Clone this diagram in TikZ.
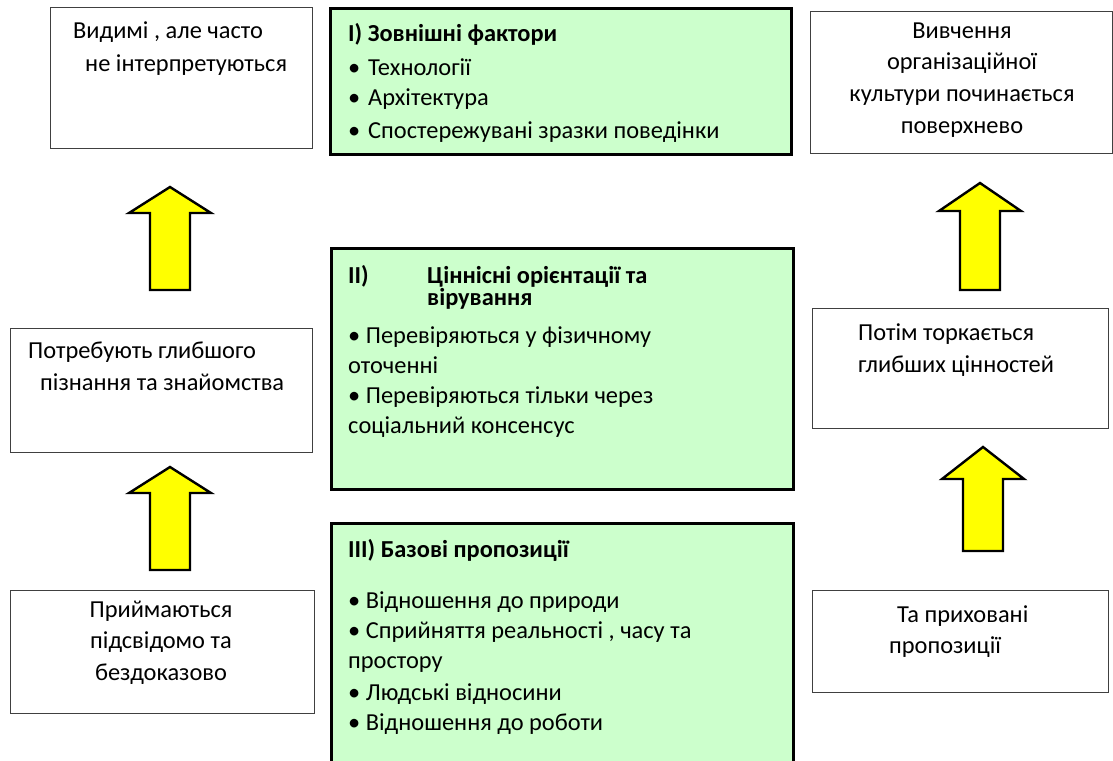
\documentclass[tikz,border=0pt]{standalone}
\usepackage{fontspec}
\setmainfont{Carlito}
\usetikzlibrary{positioning}
\definecolor{layergreen}{HTML}{CCFFCC}
\definecolor{arrowyellow}{HTML}{FFFF00}

\tikzset{
  plainbox/.style={draw=black!75, line width=1.4pt, fill=white, anchor=north west, inner sep=0pt},
  layerbox/.style={draw=black, line width=2.8pt, fill=layergreen, anchor=north west, inner sep=0pt},
  txt/.style={anchor=base west, inner sep=0pt, font=\fontsize{24.4}{30}\selectfont},
  ctxt/.style={txt, anchor=base},
  uparrow/.style={fill=arrowyellow, draw=black, line width=2.4pt, line join=miter},
}

\begin{document}
\begin{tikzpicture}[x=1pt, y=-1pt]
\clip (0,0) rectangle (1113,760);
\fill[white] (0,0) rectangle (1113,760);
% left column
\node[plainbox, minimum width=262pt, minimum height=141pt] (visBox) at (50,7) {};
\node[txt] (vis1) at (73,39) {Видимі , але часто};
\node[txt] (vis2) at (85,71) {не інтерпретуються};
\node[plainbox, minimum width=302pt, minimum height=124pt] (deepBox) at (10,328) {};
\node[txt] (deep1) at (28,358) {Потребують глибшого};
\node[txt] (deep2) at (40,390) {пізнання та знайомства};
\node[plainbox, minimum width=304pt, minimum height=123pt] (acceptBox) at (10,590) {};
\node[ctxt] (accept1) at (161,617) {Приймаються};
\node[ctxt] (accept2) at (161,648) {підсвідомо та};
\node[ctxt] (accept3) at (161,680) {бездоказово};
% levels
\node[layerbox, minimum width=461pt, minimum height=146pt] (extBox) at (329,7) {};
\node[txt] (ext0) at (348,42) {\bfseries I) Зовнішні фактори};
\node[txt] (ext1) at (348,75) {•};
\node[txt] (ext1t) at (368,75) {Технології};
\node[txt] (ext2) at (348,105) {•};
\node[txt] (ext2t) at (368,105) {Архітектура};
\node[txt] (ext3) at (348,138) {•};
\node[txt] (ext3t) at (368,138) {Спостережувані зразки поведінки};
\node[layerbox, minimum width=462pt, minimum height=241pt] (valBox) at (330,247) {};
\node[txt] (val0) at (348,283) {\bfseries II)};
\node[txt] (val0a) at (427,283) {\bfseries Ціннісні орієнтації та};
\node[txt] (val0b) at (427,305) {\bfseries вірування};
\node[txt] (val1) at (348,343) {• Перевіряються у фізичному};
\node[txt] (val2) at (348,373) {оточенні};
\node[txt] (val3) at (348,403) {• Перевіряються тільки через};
\node[txt] (val4) at (348,433) {соціальний консенсус};
\node[layerbox, minimum width=462pt, minimum height=260pt] (baseBox) at (330,522) {};
\node[txt] (base0) at (348,557) {\bfseries III) Базові пропозиції};
\node[txt] (base1) at (348,608) {• Відношення до природи};
\node[txt] (base2) at (348,638) {• Сприйняття реальності , часу та};
\node[txt] (base3) at (348,668) {простору};
\node[txt] (base4) at (348,700) {• Людські відносини};
\node[txt] (base5) at (348,730) {• Відношення до роботи};
% right column
\node[plainbox, minimum width=302pt, minimum height=142pt] (studyBox) at (810,11) {};
\node[ctxt] (study1) at (962,38) {Вивчення};
\node[ctxt] (study2) at (962,70) {організаційної};
\node[ctxt] (study3) at (962,101) {культури починається};
\node[ctxt] (study4) at (962,133) {поверхнево};
\node[plainbox, minimum width=296pt, minimum height=120pt] (touchBox) at (812,308) {};
\node[txt] (touch1) at (858,340) {Потім торкається};
\node[txt] (touch2) at (858,372) {глибших цінностей};
\node[plainbox, minimum width=296pt, minimum height=102pt] (hiddenBox) at (812,590) {};
\node[txt] (hidden1) at (897,622) {Та приховані};
\node[txt] (hidden2) at (889,653) {пропозиції};
% arrows
\foreach \cx/\tip/\hb/\bot in {170/187/213/290, 170/467/493/570, 980/183/211/290, 983/447/479/551} {
  \draw[uparrow] ({\cx-20},\bot) -- ({\cx-20},\hb) -- ({\cx-41},\hb) -- (\cx,\tip)
    -- ({\cx+41},\hb) -- ({\cx+20},\hb) -- ({\cx+20},\bot) -- cycle;
}
\end{tikzpicture}
\end{document}
